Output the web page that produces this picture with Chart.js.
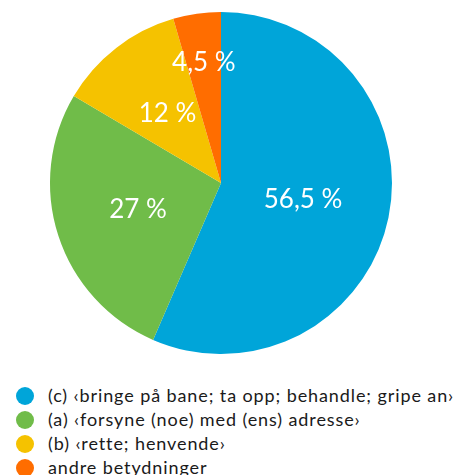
<!DOCTYPE html>
<html>
<head>
<meta charset="utf-8">
<script src="https://cdn.jsdelivr.net/npm/chart.js@4"></script>
<style>
  body { margin: 0; background: #fff; font-family: Lato, sans-serif; }
  #wrap { position: relative; width: 474px; height: 475px; }
  #pieBox { position: absolute; left: 0; top: 12px; width: 442px; height: 342px; }
  #legend { position: absolute; left: 16px; top: 383px; margin: 0; padding: 0; list-style: none; }
  #legend li { height: 24px; line-height: 24px; font-size: 18px; letter-spacing: 0.9px; color: #1a1a1a; white-space: nowrap; }
  #legend span { display: inline-block; width: 18px; height: 18px; border-radius: 50%; vertical-align: -3px; margin-right: 14px; }
</style>
</head>
<body>
<div id="wrap">
  <div id="pieBox"><canvas id="pie"></canvas></div>
  <ul id="legend"></ul>
</div>
<script>
// Data
const kategorier = ['(c) ‹bringe på bane; ta opp; behandle; gripe an›', '(a) ‹forsyne (noe) med (ens) adresse›', '(b) ‹rette; henvende›', 'andre betydninger'];
const andeler = [56.5, 27, 12, 4.5];
const etiketter = ['56,5 %', '27 %', '12 %', '4,5 %'];
const farger = ['#00a5d9', '#70bc49', '#f5c200', '#ff6d00'];

// Plassering av tekst i sektorene (andel av radius)
const etikettAvstand = [0.49, 0.51, 0.51, 0.71];

const sektorTekst = {
  id: 'sektorTekst',
  afterDatasetsDraw(chart) {
    const ctx = chart.ctx;
    const meta = chart.getDatasetMeta(0);
    ctx.save();
    ctx.fillStyle = '#ffffff';
    ctx.font = '26px Lato, sans-serif';
    ctx.textAlign = 'center';
    ctx.textBaseline = 'middle';
    meta.data.forEach((arc, i) => {
      const p = arc.getProps(['x', 'y', 'startAngle', 'endAngle', 'outerRadius'], true);
      const mid = (p.startAngle + p.endAngle) / 2;
      const r = p.outerRadius * etikettAvstand[i];
      ctx.fillText(etiketter[i], p.x + Math.cos(mid) * r, p.y + Math.sin(mid) * r);
    });
    ctx.restore();
  }
};

new Chart(document.getElementById('pie'), {
  type: 'pie',
  data: {
    labels: kategorier,
    datasets: [{
      data: andeler,
      backgroundColor: farger,
      borderWidth: 0
    }]
  },
  options: {
    responsive: true,
    maintainAspectRatio: false,
    animation: false,
    layout: { padding: 0 },
    plugins: {
      legend: { display: false },
      tooltip: { enabled: false }
    }
  },
  plugins: [sektorTekst]
});

// Forklaring
const legend = document.getElementById('legend');
kategorier.forEach((k, i) => {
  const li = document.createElement('li');
  const dot = document.createElement('span');
  dot.style.background = farger[i];
  li.appendChild(dot);
  li.appendChild(document.createTextNode(k));
  legend.appendChild(li);
});
</script>
</body>
</html>
